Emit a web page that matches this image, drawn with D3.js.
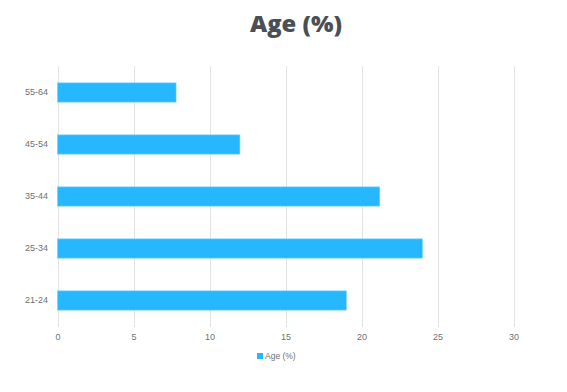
<!DOCTYPE html>
<html>
<head>
<meta charset="utf-8">
<script src="https://cdn.jsdelivr.net/npm/d3@7"></script>
<style>
  body { margin: 0; background: #fff; }
  svg { display: block; }
</style>
</head>
<body>
<svg></svg>
<script>
const categories = ["55-64", "45-54", "35-44", "25-34", "21-24"];
const values = [7.8, 12.0, 21.2, 24.0, 19.0];
const xTicks = [0, 5, 10, 15, 20, 25, 30];
const seriesName = "Age (%)";

let width = 567;
let height = 392;
let svg = d3.select("svg")
            .attr("width", width)
            .attr("height", height);

let x = d3.scaleLinear()
        .domain([0, 30])
        .range([57.5, 513.5]);

let y = d3.scaleBand()
        .domain(categories)
        .range([66.5, 326.5])
        .paddingInner(0.63)
        .paddingOuter(0.315);

// title
svg.append("text")
    .attr("x", 296)
    .attr("y", 32)
    .attr("text-anchor", "middle")
    .attr("font-family", "'Open Sans', sans-serif")
    .attr("font-weight", "800")
    .attr("font-size", 23)
    .attr("textLength", 92)
    .attr("lengthAdjust", "spacingAndGlyphs")
    .attr("fill", "#4a4f56")
    .text(seriesName);

// gridlines
svg.append("g")
    .selectAll("line")
    .data(xTicks)
    .enter()
    .append("line")
    .attr("x1", d => Math.round(x(d)) + 0.5)
    .attr("x2", d => Math.round(x(d)) + 0.5)
    .attr("y1", 66)
    .attr("y2", 327)
    .attr("stroke", "#e3e3e3")
    .attr("stroke-width", 1);

// bars
svg.append("g")
    .selectAll("rect")
    .data(categories)
    .enter()
    .append("rect")
    .attr("x", x(0))
    .attr("y", d => y(d))
    .attr("width", (d, i) => x(values[i]) - x(0))
    .attr("height", y.bandwidth())
    .attr("fill", "#26b7ff")
    .attr("stroke", "#6fd0ff")
    .attr("stroke-width", 0.6);

// y axis
let yAxis = svg.append("g")
    .attr("transform", "translate(50, 0)")
    .call(d3.axisLeft(y).tickSize(0).tickPadding(2));
yAxis.select(".domain").remove();
yAxis.selectAll("text")
    .attr("font-family", "'Liberation Sans', sans-serif")
    .attr("font-size", 9)
    .attr("fill", "#707070");

// x axis
let xAxis = svg.append("g")
    .attr("transform", "translate(0, 327)")
    .call(d3.axisBottom(x).tickValues(xTicks).tickSize(0).tickPadding(7));
xAxis.select(".domain").remove();
xAxis.selectAll("text")
    .attr("font-family", "'Liberation Sans', sans-serif")
    .attr("font-size", 9)
    .attr("fill", "#707070");

// legend
let legend = svg.append("g").attr("transform", "translate(257, 353)");
legend.append("rect")
    .attr("width", 6)
    .attr("height", 6)
    .attr("fill", "#26b7ff");
legend.append("text")
    .attr("x", 8)
    .attr("y", 6)
    .attr("font-family", "'Liberation Sans', sans-serif")
    .attr("font-size", 8.5)
    .attr("fill", "#707070")
    .text(seriesName);
</script>
</body>
</html>
